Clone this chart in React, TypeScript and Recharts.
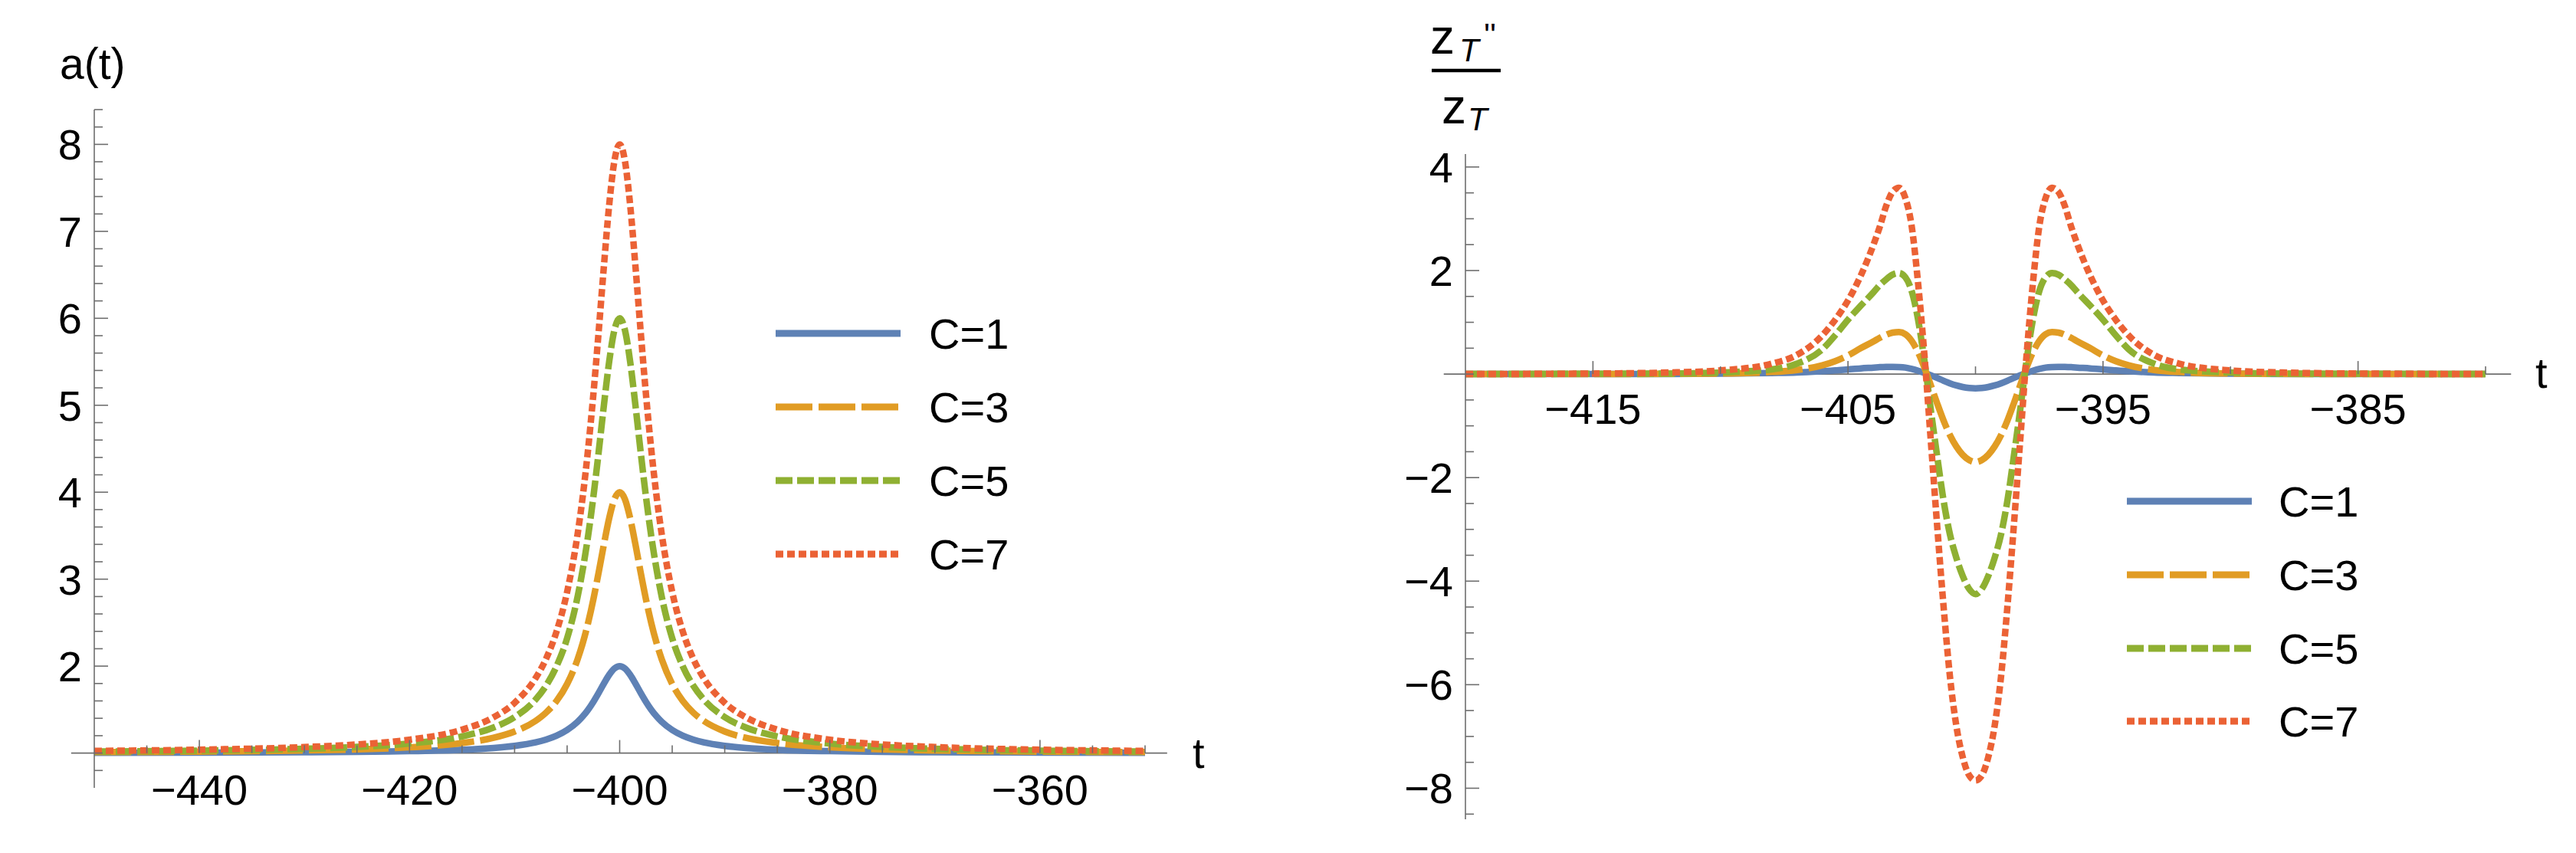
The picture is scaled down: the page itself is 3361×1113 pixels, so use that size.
import React from 'react';
import { LineChart, Line, XAxis, YAxis, ReferenceLine } from 'recharts';

const FONT = '"Liberation Sans", Arial, Helvetica, sans-serif';
const AXIS_COLOR = '#6e6e6e';
const TICK_FONT = 56;

const seriesNames = ['C=1', 'C=3', 'C=5', 'C=7'];
const seriesKeys = ['c1', 'c3', 'c5', 'c7'];
const seriesColors = ['#5E81B5', '#E19C24', '#8FB032', '#EB6235'];
const seriesDash = [undefined, '48 8', '22 6', '10 5'];

// left panel: a(t)
const tLeft = [
  -450, -440, -430, -425, -420, -415, -412, -410, -408, -407, -406, -405, -404, -403.5, -403, -402.5, -402, -401.5,
  -401, -400.5, -400, -399.5, -399, -398.5, -398, -397.5, -397, -396.5, -396, -395, -394, -393, -392, -390, -388,
  -385, -380, -375, -370, -360, -350,
];
const aC1 = [
  1.004, 1.006, 1.01, 1.014, 1.022, 1.038, 1.059, 1.083, 1.123, 1.155, 1.2, 1.265, 1.36, 1.424, 1.5, 1.59, 1.692, 1.8,
  1.9, 1.973, 2.0, 1.973, 1.9, 1.8, 1.692, 1.59, 1.5, 1.424, 1.36, 1.265, 1.2, 1.155, 1.123, 1.083, 1.059, 1.038,
  1.022, 1.014, 1.01, 1.006, 1.004,
];
const aC3 = [
  1.011, 1.017, 1.03, 1.043, 1.066, 1.115, 1.176, 1.248, 1.37, 1.466, 1.6, 1.794, 2.08, 2.27, 2.5, 2.77, 3.077, 3.4,
  3.7, 3.92, 4.0, 3.92, 3.7, 3.4, 3.077, 2.77, 2.5, 2.27, 2.08, 1.794, 1.6, 1.466, 1.37, 1.248, 1.176, 1.115, 1.066,
  1.043, 1.03, 1.017, 1.011,
];
const aC5 = [
  1.018, 1.028, 1.05, 1.071, 1.11, 1.192, 1.294, 1.413, 1.616, 1.776, 2.0, 2.32, 2.8, 3.12, 3.5, 3.95, 4.46, 5.0, 5.5,
  5.865, 6.0, 5.865, 5.5, 5.0, 4.46, 3.95, 3.5, 3.12, 2.8, 2.32, 2.0, 1.776, 1.616, 1.413, 1.294, 1.192, 1.11, 1.071,
  1.05, 1.028, 1.018,
];
const aC7 = [
  1.025, 1.039, 1.069, 1.099, 1.154, 1.269, 1.412, 1.578, 1.863, 2.086, 2.4, 2.853, 3.52, 3.965, 4.5, 5.13, 5.846, 6.6,
  7.3, 7.81, 8.0, 7.81, 7.3, 6.6, 5.846, 5.13, 4.5, 3.965, 3.52, 2.853, 2.4, 2.086, 1.863, 1.578, 1.412, 1.269, 1.154,
  1.099, 1.069, 1.039, 1.025,
];
const leftXLabels = [-440, -420, -400, -380, -360];
const leftYLabels = [2, 3, 4, 5, 6, 7, 8];

// right panel: z_T''/z_T
const tRight = [
  -420, -415, -412, -410, -408, -407, -406, -405.5, -405, -404.5, -404, -403.75, -403.5, -403.25, -403, -402.75,
  -402.5, -402.25, -402, -401.75, -401.5, -401.25, -401, -400.75, -400.5, -400.25, -400, -399.75, -399.5, -399.25,
  -399, -398.75, -398.5, -398.25, -398, -397.75, -397.5, -397.25, -397, -396.75, -396.5, -396.25, -396, -395.5, -395,
  -394.5, -394, -393, -392, -390, -388, -385, -380,
];
const zC1 = [
  0, 0, 0.003, 0.007, 0.02, 0.03, 0.055, 0.07, 0.09, 0.11, 0.125, 0.133, 0.138, 0.14, 0.136, 0.125, 0.1, 0.065, 0.022,
  -0.025, -0.075, -0.13, -0.18, -0.22, -0.25, -0.268, -0.275, -0.268, -0.25, -0.22, -0.18, -0.13, -0.075, -0.025,
  0.022, 0.065, 0.1, 0.125, 0.136, 0.14, 0.138, 0.133, 0.125, 0.11, 0.09, 0.07, 0.055, 0.03, 0.02, 0.007, 0.003, 0, 0,
];
const zC3 = [
  0, 0, 0.005, 0.01, 0.04, 0.08, 0.17, 0.25, 0.36, 0.5, 0.63, 0.7, 0.76, 0.8, 0.81, 0.77, 0.64, 0.42, 0.12, -0.22,
  -0.57, -0.9, -1.18, -1.4, -1.56, -1.66, -1.7, -1.66, -1.56, -1.4, -1.18, -0.9, -0.57, -0.22, 0.12, 0.42, 0.64, 0.77,
  0.81, 0.8, 0.76, 0.7, 0.63, 0.5, 0.36, 0.25, 0.17, 0.08, 0.04, 0.01, 0.005, 0, 0,
];
const zC5 = [
  0, 0.005, 0.01, 0.03, 0.09, 0.2, 0.48, 0.75, 1.05, 1.32, 1.58, 1.72, 1.83, 1.92, 1.95, 1.87, 1.6, 1.05, 0.25, -0.7,
  -1.6, -2.45, -3.1, -3.55, -3.9, -4.15, -4.25, -4.15, -3.9, -3.55, -3.1, -2.45, -1.6, -0.7, 0.25, 1.05, 1.6, 1.87,
  1.95, 1.92, 1.83, 1.72, 1.58, 1.32, 1.05, 0.75, 0.48, 0.2, 0.09, 0.03, 0.01, 0.005, 0,
];
const zC7 = [
  0, 0.01, 0.03, 0.07, 0.2, 0.37, 0.75, 1.05, 1.42, 1.9, 2.5, 2.85, 3.25, 3.52, 3.6, 3.4, 2.85, 1.75, 0.35, -1.3,
  -2.95, -4.5, -5.85, -6.8, -7.4, -7.75, -7.85, -7.75, -7.4, -6.8, -5.85, -4.5, -2.95, -1.3, 0.35, 1.75, 2.85, 3.4,
  3.6, 3.52, 3.25, 2.85, 2.5, 1.9, 1.42, 1.05, 0.75, 0.37, 0.2, 0.07, 0.03, 0.01, 0,
];
const rightXLabels = [-415, -405, -395, -385];
const rightYLabels = [-8, -6, -4, -2, 2, 4];

const leftData = tLeft.map((t, i) => ({ t, c1: aC1[i], c3: aC3[i], c5: aC5[i], c7: aC7[i] }));
const rightData = tRight.map((t, i) => ({ t, c1: zC1[i], c3: zC3[i], c5: zC5[i], c7: zC7[i] }));

const range = (a: number, b: number, step: number) => {
  const out: number[] = [];
  for (let v = a; v <= b + 1e-9; v += step) out.push(Math.round(v * 10) / 10);
  return out;
};

// layout of the two panels
const L = { left: 0, w: 1680, h: 1113, top: 143, right: 186, bottom: 55, yw: 123, xh: 30 };
const R = { left: 1700, w: 1661, h: 1113, top: 201, right: 118, bottom: 14, yw: 212, xh: 30 };
const leftYDomain = [0.6, 8.4];
const rightYDomain = [-8.6, 4.25];
const leftPlotH = L.h - L.top - L.bottom - L.xh;
const rightPlotH = R.h - R.top - R.bottom - R.xh;
// distance from plot bottom up to the horizontal axis (a=1 on the left, 0 on the right)
const leftLift = ((1 - leftYDomain[0]) / (leftYDomain[1] - leftYDomain[0])) * leftPlotH;
const rightLift = ((0 - rightYDomain[0]) / (rightYDomain[1] - rightYDomain[0])) * rightPlotH;

const fmt = (v: number) => (v < 0 ? '\u2212' + Math.abs(v) : String(v));

const YTick = ({ x, y, payload, labels }: any) => {
  const major = labels.includes(payload.value);
  return (
    <g>
      <line x1={x} y1={y} x2={x + (major ? 18 : 11)} y2={y} stroke={AXIS_COLOR} strokeWidth={1.6} />
      {major && (
        <text x={x - 16} y={y + 20} textAnchor="end" fontSize={TICK_FONT} fontFamily={FONT} fill="#000">
          {fmt(payload.value)}
        </text>
      )}
    </g>
  );
};

const XTick = ({ x, y, payload, labels, lift, drop }: any) => {
  const major = labels.includes(payload.value);
  const ay = y - lift;
  return (
    <g>
      <line x1={x} y1={ay} x2={x} y2={ay - (major ? 17 : 10)} stroke={AXIS_COLOR} strokeWidth={1.6} />
      {major && (
        <text x={x} y={ay + drop} textAnchor="middle" fontSize={TICK_FONT} fontFamily={FONT} fill="#000">
          {fmt(payload.value)}
        </text>
      )}
    </g>
  );
};

const renderLines = () =>
  seriesKeys.map((k, i) => (
    <Line
      key={k}
      dataKey={k}
      name={seriesNames[i]}
      type="monotone"
      stroke={seriesColors[i]}
      strokeWidth={8.5}
      strokeDasharray={seriesDash[i]}
      dot={false}
      activeDot={false}
      isAnimationActive={false}
    />
  ));

const LegendBlock = ({ x, ys, textX }: { x: number; ys: number[]; textX: number }) => (
  <g>
    {seriesNames.map((n, i) => (
      <g key={n}>
        <line
          x1={x}
          x2={x + 163}
          y1={ys[i]}
          y2={ys[i]}
          stroke={seriesColors[i]}
          strokeWidth={9}
          strokeDasharray={seriesDash[i]}
        />
        <text x={textX} y={ys[i] + 20} fontSize={TICK_FONT} fontFamily={FONT} fill="#000">
          {n}
        </text>
      </g>
    ))}
  </g>
);

export default function App() {
  return (
    <div style={{ position: 'absolute', left: 0, top: 0, width: 3361, height: 1113, background: '#fff' }}>
      <div style={{ position: 'absolute', left: L.left, top: 0 }}>
        <LineChart
          width={L.w}
          height={L.h}
          data={leftData}
          margin={{ top: L.top, right: L.right, bottom: L.bottom, left: 0 }}
        >
          <XAxis
            dataKey="t"
            type="number"
            domain={[-450, -350]}
            ticks={range(-445, -350, 5)}
            interval={0}
            height={L.xh}
            axisLine={false}
            tickLine={false}
            tickSize={0}
            tickMargin={0}
            tick={(p: any) => <XTick {...p} labels={leftXLabels} lift={leftLift} drop={67} />}
          />
          <YAxis
            type="number"
            domain={leftYDomain}
            ticks={range(0.8, 8.4, 0.2)}
            interval={0}
            width={L.yw}
            axisLine={{ stroke: AXIS_COLOR, strokeWidth: 1.6 }}
            tickLine={false}
            tickSize={0}
            tickMargin={0}
            tick={(p: any) => <YTick {...p} labels={leftYLabels} />}
          />
          <ReferenceLine
            segment={[
              { x: -452.2, y: 1 },
              { x: -347.9, y: 1 },
            ]}
            stroke={AXIS_COLOR}
            strokeWidth={1.6}
            ifOverflow="visible"
          />
          {renderLines()}
        </LineChart>
      </div>

      <div style={{ position: 'absolute', left: R.left, top: 0 }}>
        <LineChart
          width={R.w}
          height={R.h}
          data={rightData}
          margin={{ top: R.top, right: R.right, bottom: R.bottom, left: 0 }}
        >
          <XAxis
            dataKey="t"
            type="number"
            domain={[-420, -380]}
            ticks={range(-415, -380, 5)}
            interval={0}
            height={R.xh}
            axisLine={false}
            tickLine={false}
            tickSize={0}
            tickMargin={0}
            tick={(p: any) => <XTick {...p} labels={rightXLabels} lift={rightLift} drop={65} />}
          />
          <YAxis
            type="number"
            domain={rightYDomain}
            ticks={range(-8.5, 4, 0.5)}
            interval={0}
            width={R.yw}
            axisLine={{ stroke: AXIS_COLOR, strokeWidth: 1.6 }}
            tickLine={false}
            tickSize={0}
            tickMargin={0}
            tick={(p: any) => <YTick {...p} labels={rightYLabels} />}
          />
          <ReferenceLine
            segment={[
              { x: -420.85, y: 0 },
              { x: -379.0, y: 0 },
            ]}
            stroke={AXIS_COLOR}
            strokeWidth={1.6}
            ifOverflow="visible"
          />
          {renderLines()}
        </LineChart>
      </div>

      {/* axis labels and legends */}
      <svg
        width={3361}
        height={1113}
        style={{ position: 'absolute', left: 0, top: 0, pointerEvents: 'none' }}
      >
        <text x={78} y={103} fontSize={57} fontFamily={FONT} fill="#000">
          a(t)
        </text>
        <text x={1556} y={1002} fontSize={TICK_FONT} fontFamily={FONT} fill="#000">
          t
        </text>
        <text x={3308} y={506} fontSize={TICK_FONT} fontFamily={FONT} fill="#000">
          t
        </text>

        <g fontFamily={FONT} fill="#000">
          <text x={1866} y={70} fontSize={64}>z</text>
          <text x={1904} y={80} fontSize={42} fontStyle="italic">T</text>
          <text x={1936} y={60} fontSize={42}>''</text>
          <line x1={1868} x2={1958} y1={92} y2={92} stroke="#000" strokeWidth={4.5} />
          <text x={1881} y={161} fontSize={64}>z</text>
          <text x={1915} y={170} fontSize={42} fontStyle="italic">T</text>
        </g>

        <LegendBlock x={1012} ys={[435, 531, 627, 723]} textX={1212} />
        <LegendBlock x={2775} ys={[654, 750, 846, 941]} textX={2973} />
      </svg>
    </div>
  );
}
